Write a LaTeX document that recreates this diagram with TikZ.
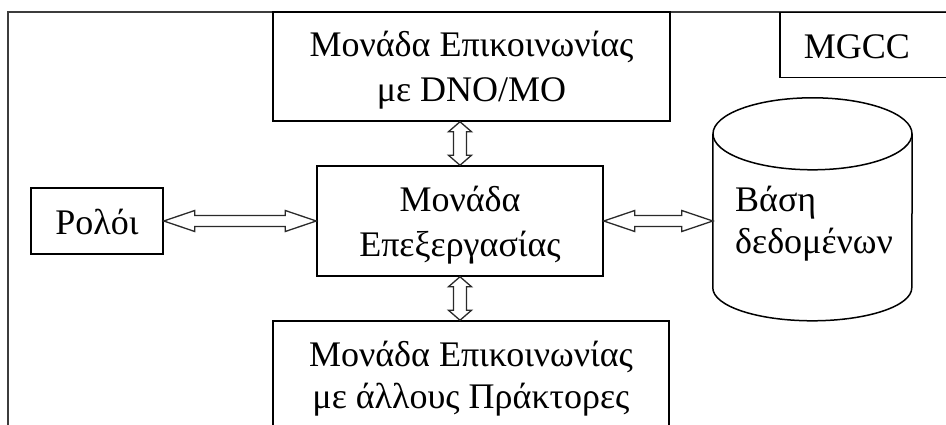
\documentclass[tikz,border=0pt]{standalone}
\usepackage{fontspec}
\setmainfont{Liberation Serif}
\usetikzlibrary{calc}
% strut giving every text line the same height and depth
\newcommand\ls{\rule[-8pt]{0pt}{42pt}}
\definecolor{framegray}{HTML}{3C3C3C}
\definecolor{arrowgray}{HTML}{2A2A2A}
\tikzset{
  box/.style={draw=black, line width=1.5pt, rectangle, inner sep=0pt, align=center,
    font=\fontsize{36pt}{45pt}\selectfont},
  box42/.style={box, font=\fontsize{36pt}{42pt}\selectfont},
  label42/.style={inner sep=0pt, align=left, font=\fontsize{36pt}{42pt}\selectfont},
  outline/.style={draw=black, line width=1.5pt},
  % hollow double-headed arrow: head length, head half-width, shaft half-width
  hollow arrow/.style n args={3}{draw=arrowgray, line width=1.3pt, fill=white, line join=miter,
    to path={
      (\tikztostart)
      -- ($(\tikztostart)!#1!(\tikztotarget)!#2!90:(\tikztotarget)$)
      -- ($(\tikztostart)!#1!(\tikztotarget)!#3!90:(\tikztotarget)$)
      -- ($(\tikztotarget)!#1!(\tikztostart)!#3!-90:(\tikztostart)$)
      -- ($(\tikztotarget)!#1!(\tikztostart)!#2!-90:(\tikztostart)$)
      -- (\tikztotarget)
      -- ($(\tikztotarget)!#1!(\tikztostart)!#2!90:(\tikztostart)$)
      -- ($(\tikztotarget)!#1!(\tikztostart)!#3!90:(\tikztostart)$)
      -- ($(\tikztostart)!#1!(\tikztotarget)!#3!-90:(\tikztotarget)$)
      -- ($(\tikztostart)!#1!(\tikztotarget)!#2!-90:(\tikztotarget)$)
      -- cycle
    }},
  harrow/.style={hollow arrow={31pt}{10.5pt}{5.5pt}},
  varrow/.style={hollow arrow={10pt}{11.5pt}{6.5pt}}
}
\begin{document}
\begin{tikzpicture}[x=1pt, y=-1pt]
\useasboundingbox (0,0) rectangle (946,425);
\clip (0,0) rectangle (946,425);
\fill[white] (0,0) rectangle (946,425);

% enclosing agent frame
\draw[draw=framegray, line width=2.2pt] (8,12) rectangle (990,470);

% modules
\node[box, minimum width=397pt, minimum height=109pt] (comm1) at (471.5,66.5)
  {\ls Μονάδα Επικοινωνίας\\\ls με DNO/MO};
\node[box, minimum width=286pt, minimum height=110pt] (proc) at (460,221)
  {\ls Μονάδα\\\ls Επεξεργασίας};
\node[box, minimum width=132pt, minimum height=66pt] (clock) at (97,221)
  {\ls Ρολόι};
\node[box42, minimum width=396pt, minimum height=106pt] (comm2) at (471,374)
  {\ls Μονάδα Επικοινωνίας\\\ls με άλλους Πράκτορες};
\node[box, anchor=north west, minimum height=65pt, text width=160pt, align=left,
  inner xsep=24pt] (mgcc) at (779,12) {\ls MGCC};

% database cylinder
\node[minimum width=199pt, minimum height=223pt, inner sep=0pt] (db) at (812.5,209.5) {};
\draw[outline] ($(db.north west)+(0,36)$) -- ($(db.north west)+(0,190)$)
  arc[start angle=180, end angle=0, x radius=99.5, y radius=33]
  -- ($(db.north east)+(0,36)$);
\draw[outline] ($(db.north)+(0,36)$) ellipse [x radius=99.5, y radius=36];
\node[label42, anchor=west] (dbtext) at (735,219) {\ls Βάση\\\ls δεδομένων};

% connectors
\coordinate (topend) at (proc.north |- comm1.south);
\coordinate (botend) at (proc.south |- comm2.north);
\coordinate (dbend) at (proc.east -| db.west);
\draw[varrow] (topend) to (proc.north);
\draw[varrow] (proc.south) to (botend);
\draw[harrow] (clock.east) to (proc.west);
\draw[harrow] (proc.east) to (dbend);
\end{tikzpicture}
\end{document}
